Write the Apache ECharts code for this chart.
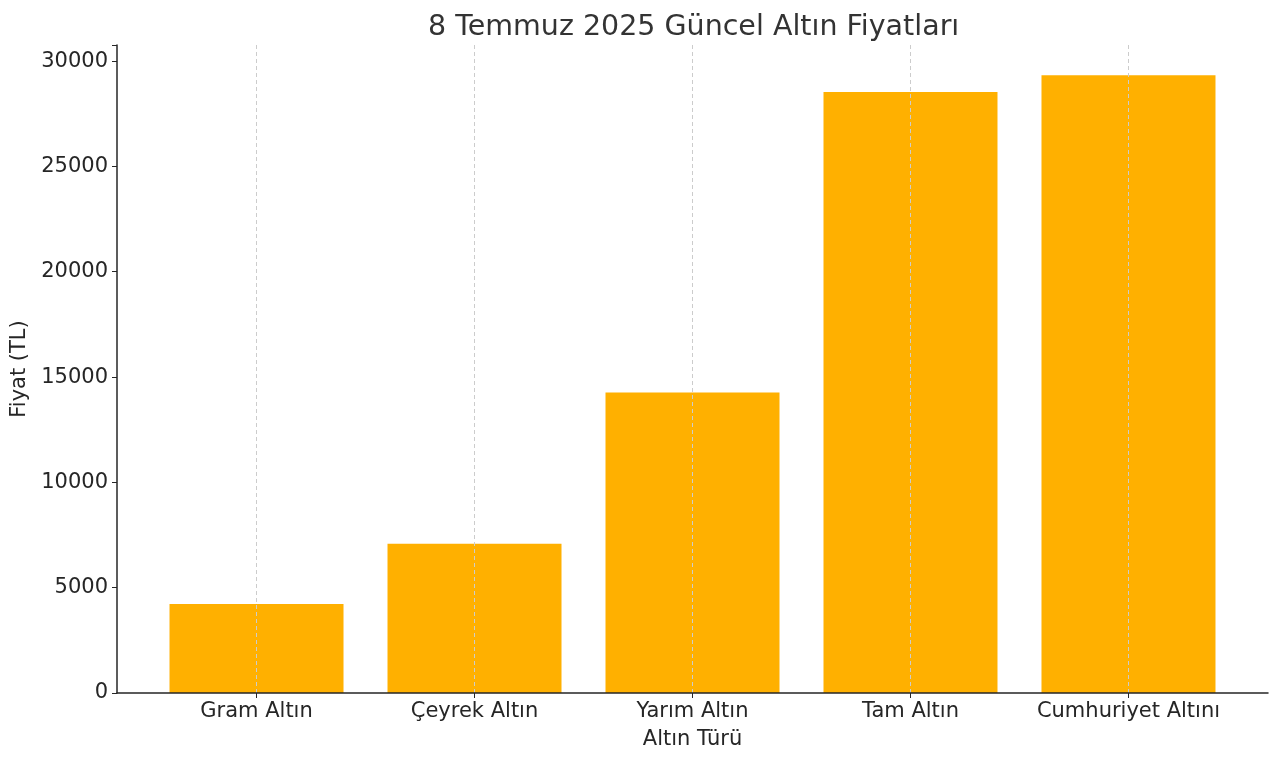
<!DOCTYPE html>
<html>
<head>
<meta charset="utf-8">
<script src="https://cdn.jsdelivr.net/npm/echarts@6/dist/echarts.min.js"></script>
<style>
  html, body { margin: 0; padding: 0; background: #fff; }
  #chart { width: 1280px; height: 763px; }
</style>
</head>
<body>
<div id="chart"></div>
<script>
  // veriler
  const categories = ['Gram Altın', 'Çeyrek Altın', 'Yarım Altın', 'Tam Altın', 'Cumhuriyet Altını'];
  const prices = [4230, 7090, 14270, 28530, 29330];
  const yTicks = [0, 5000, 10000, 15000, 20000, 25000, 30000];

  const font = 'DejaVu Sans';
  const chart = echarts.init(document.getElementById('chart'));

  const option = {
    animation: false,
    textStyle: { fontFamily: font },
    title: {
      text: '8 Temmuz 2025 Güncel Altın Fiyatları',
      left: 423,
      top: 8,
      textStyle: { fontFamily: font, fontSize: 28.5, fontWeight: 'normal', color: '#333' }
    },
    grid: { left: 117, right: 12, top: 45, bottom: 70, outerBoundsMode: 'none', containLabel: false },
    xAxis: {
      type: 'value',
      min: -0.64,
      max: 4.64,
      z: 5,
      name: 'Altın Türü',
      nameLocation: 'middle',
      nameGap: 36,
      nameTextStyle: { fontSize: 21, color: '#262626' },
      axisLine: { show: true, onZero: false, lineStyle: { color: '#262626', width: 1.5 } },
      axisTick: { show: true, customValues: [0, 1, 2, 3, 4], length: 5, inside: false, lineStyle: { color: '#262626' } },
      axisLabel: {
        customValues: [0, 1, 2, 3, 4],
        fontSize: 21,
        color: '#262626',
        margin: 8,
        formatter: v => categories[Math.round(v)] || ''
      },
      splitLine: {
        show: true,
        lineStyle: { color: '#cccccc', type: [4, 3], width: 1 }
      }
    },
    yAxis: {
      type: 'value',
      min: 0,
      max: 30765,
      interval: 5000,
      name: 'Fiyat (TL)',
      nameLocation: 'middle',
      nameGap: 80,
      nameRotate: 90,
      nameTextStyle: { fontSize: 21, color: '#262626' },
      axisLine: { show: true, onZero: false, lineStyle: { color: '#262626', width: 1.5 } },
      axisTick: { show: true, length: 5, lineStyle: { color: '#262626' } },
      axisLabel: {
        fontSize: 21,
        color: '#262626',
        margin: 9,
        formatter: v => (yTicks.indexOf(v) >= 0 ? String(v) : '')
      },
      splitLine: { show: false }
    },
    series: [{
      type: 'bar',
      barWidth: 174,
      itemStyle: { color: '#FFB000' },
      data: prices.map((p, i) => [i, p])
    }]
  };

  chart.setOption(option);
</script>
</body>
</html>
